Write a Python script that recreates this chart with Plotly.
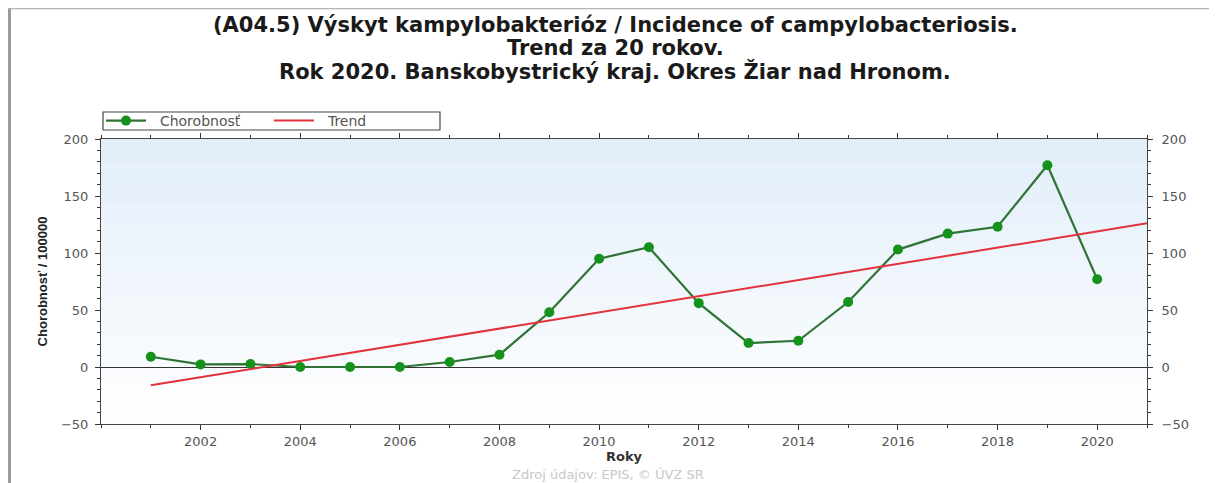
import plotly.graph_objects as go

years = [2001, 2002, 2003, 2004, 2005, 2006, 2007, 2008, 2009, 2010,
         2011, 2012, 2013, 2014, 2015, 2016, 2017, 2018, 2019, 2020]
chorobnost = [9, 2.3, 2.6, 0, 0, 0, 4.4, 10.8, 48, 95,
              105, 56, 21, 23, 57, 103, 117, 123, 177, 77]
trend_years = [2001, 2021]
trend_values = [-16, 126]

x_tickvals = [2002, 2004, 2006, 2008, 2010, 2012, 2014, 2016, 2018, 2020]
y_tickvals = [-50, 0, 50, 100, 150, 200]

title_lines = [
    "(A04.5) Výskyt kampylobakterióz / Incidence of campylobacteriosis.",
    "Trend za 20 rokov.",
    "Rok 2020. Banskobystrický kraj. Okres Žiar nad Hronom.",
]

# the page body adds an 8 px offset; work in screen pixels and convert
OFF = 8
W, H = 1217 - OFF, 483 - OFF
L, R, T, B = 101, 1147, 139, 424  # plot area in screen pixels


def sx(p):
    return (p - L) / (R - L)


def sy(q):
    return (B - q) / (B - T)


fig = go.Figure()
fig.add_trace(go.Scatter(
    x=years, y=chorobnost, mode="lines+markers",
    name="\u00a0\u00a0Chorobnosť",
    line=dict(color="#2f7434", width=2.2),
    marker=dict(color="#14921b", size=10),
))
fig.add_trace(go.Scatter(
    x=trend_years, y=trend_values, mode="lines", name="\u00a0\u00a0Trend",
    line=dict(color="#e2323c", width=2),
))
fig.add_trace(go.Scatter(x=[2000], y=[None], yaxis="y2", showlegend=False,
                         hoverinfo="skip"))

# gradient background bands
n = 30
for i in range(n):
    t = (i + 0.5) / n
    r0 = int(255 - (255 - 226) * t)
    g0 = int(255 - (255 - 238) * t)
    b0 = int(255 - (255 - 250) * t)
    fig.add_shape(type="rect", xref="paper", yref="paper",
                  x0=0, x1=1, y0=i / n, y1=(i + 1) / n,
                  fillcolor=f"rgb({r0},{g0},{b0})", line=dict(width=0),
                  layer="below")

# outer frame
fig.add_shape(type="line", xref="paper", yref="paper",
              x0=sx(9.5), x1=sx(9.5), y0=sy(8), y1=sy(490),
              line=dict(color="#9a9a9a", width=3))
fig.add_shape(type="line", xref="paper", yref="paper",
              x0=sx(8), x1=sx(1211), y0=sy(8.5), y1=sy(8.5),
              line=dict(color="#b5b5b5", width=1.5))
fig.add_shape(type="line", xref="paper", yref="paper",
              x0=sx(1211), x1=sx(1211), y0=sy(8), y1=sy(490),
              line=dict(color="#dddddd", width=1))

# legend box
fig.add_shape(type="rect", xref="paper", yref="paper",
              x0=sx(103), x1=sx(440), y0=sy(130), y1=sy(112),
              fillcolor="white", line=dict(color="#444444", width=1.2),
              layer="above")

tick_font = dict(family="DejaVu Sans", size=13, color="#555555")

fig.update_layout(
    width=W, height=H,
    margin=dict(l=L - OFF, r=W - (R - OFF), t=T - OFF, b=H - (B - OFF)),
    paper_bgcolor="white",
    plot_bgcolor="white",
    xaxis=dict(
        range=[2000, 2021], tickvals=x_tickvals,
        ticks="outside", ticklen=5, tickcolor="#333",
        showline=True, linecolor="#444", linewidth=1, mirror="ticks",
        showgrid=False, zeroline=False,
        tickfont=tick_font,
        minor=dict(dtick=1, tick0=2001, ticks="outside", ticklen=3,
                   tickcolor="#333"),
        title=dict(text="<b>Roky</b>", standoff=3,
                   font=dict(family="DejaVu Sans", size=13, color="#333333")),
    ),
    yaxis=dict(
        range=[-50, 200], tickvals=y_tickvals,
        ticks="outside", ticklen=5, tickcolor="#333",
        showline=True, linecolor="#444", linewidth=1, mirror=True,
        showgrid=False, zeroline=True, zerolinecolor="#333", zerolinewidth=1,
        tickfont=tick_font, ticklabelstandoff=4,
        minor=dict(dtick=10, ticks="outside", ticklen=3, tickcolor="#333"),
        title=dict(text="<b>Chorobnosť / 100000</b>", standoff=10,
                   font=dict(family="Liberation Sans, Arial", size=13,
                             color="#222222")),
    ),
    yaxis2=dict(
        range=[-50, 200], tickvals=y_tickvals, overlaying="y", side="right",
        ticks="outside", ticklen=5, tickcolor="#333",
        showline=False, showgrid=False, zeroline=False,
        tickfont=tick_font, ticklabelstandoff=6,
        minor=dict(dtick=10, ticks="outside", ticklen=3, tickcolor="#333"),
    ),
    legend=dict(
        orientation="h", x=sx(101), xanchor="left", y=sy(105), yanchor="top",
        bgcolor="rgba(0,0,0,0)", borderwidth=0,
        font=dict(family="DejaVu Sans", size=14, color="#555555"),
        entrywidth=113, itemwidth=40, tracegroupgap=0,
    ),
    showlegend=True,
)

title_y = [25, 48, 72]
for line, yy in zip(title_lines, title_y):
    fig.add_annotation(
        text=f"<b>{line}</b>", xref="paper", yref="paper",
        x=sx(615), y=sy(yy), xanchor="center", yanchor="middle",
        showarrow=False,
        font=dict(family="DejaVu Sans", size=21, color="#1a1a1a"),
    )

fig.add_annotation(
    text="Zdroj údajov: EPIS, © ÚVZ SR", xref="paper", yref="paper",
    x=sx(608), y=sy(474), xanchor="center", yanchor="middle",
    showarrow=False,
    font=dict(family="DejaVu Sans", size=13, color="#c8c8c8"),
)

fig.write_html("out.html")
